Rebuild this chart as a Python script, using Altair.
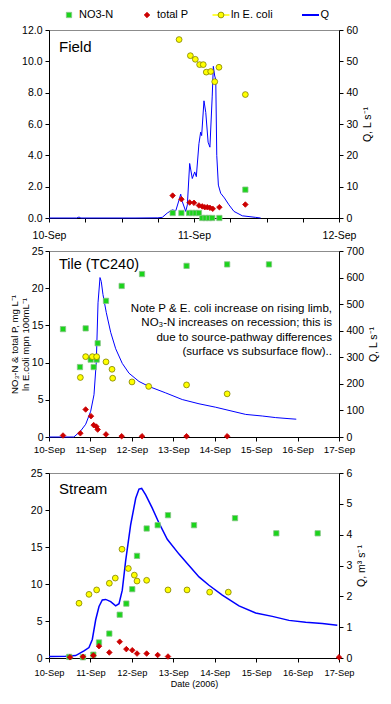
import altair as alt
import numpy as np
import pandas as pd

SERIES = ["NO3-N", "total P", "ln E. coli", "Q"]
POINT_SERIES = SERIES[:3]
PANEL_TITLES = ["Field", "Tile (TC240)", "Stream"]

# ---- Field (time in days after 10-Sep 00:00) ----
FIELD_NO3_T = [0.853, 0.913, 0.966, 0.989, 1.011, 1.034, 1.057, 1.080, 1.103, 1.126, 1.175, 1.354]
FIELD_NO3 = [0.32, 0.32, 0.32, 0.32, 0.32, 0.32, 0.0, 0.0, 0.0, 0.0, 0.0, 1.81]
FIELD_TP_T = [0.853, 0.913, 0.970, 1.000, 1.034, 1.057, 1.074, 1.092, 1.110, 1.129, 1.175, 1.354]
FIELD_TP = [1.43, 1.20, 0.99, 0.97, 0.80, 0.74, 0.69, 0.69, 0.65, 0.59, 0.69, 0.86]
FIELD_EC_T = [0.897, 0.975, 1.009, 1.039, 1.064, 1.085, 1.115, 1.143, 1.172, 1.354]
FIELD_EC = [11.39, 10.36, 10.13, 9.79, 9.79, 9.31, 9.35, 8.70, 9.62, 7.88]
FIELD_Q_T = [0.0, 0.19, 0.207, 0.22, 0.60, 0.75, 0.781, 0.816, 0.850, 0.874, 0.897, 0.908,
             0.919, 0.943, 0.954, 0.970, 0.988, 1.005, 1.016, 1.034, 1.046, 1.053, 1.069,
             1.081, 1.097, 1.110, 1.126, 1.133, 1.143, 1.150, 1.157, 1.168, 1.184, 1.210,
             1.241, 1.276, 1.333, 1.425, 1.46]
FIELD_Q = [0.0, 0.0, 0.3, 0.0, 0.0, 0.05, 0.2, 1.6, 2.6, 2.3, 5.8, 7.6,
           5.3, 2.1, 4.2, 17.4, 12.6, 14.7, 13.2, 23.7, 27.4, 26.3, 37.4,
           33.7, 24.2, 22.6, 38.9, 48.4, 45.3, 44.2, 20.0, 10.5, 7.9, 6.4,
           4.2, 2.1, 0.7, 0.2, 0.0]

# ---- Tile (TC240) ----
TILE_NO3_T = [0.338, 0.748, 0.885, 1.006, 1.078, 1.150, 1.175, 1.376, 1.754, 2.245, 3.32, 4.30, 5.31]
TILE_NO3 = [14.5, 9.4, 14.6, 10.4, 9.4, 10.4, 12.6, 18.3, 20.3, 21.9, 23.0, 23.2, 23.2]
TILE_TP_T = [0.338, 0.757, 0.885, 1.014, 1.078, 1.143, 1.175, 1.376, 1.754, 2.245, 3.32, 4.30]
TILE_TP = [0.2, 0.5, 3.7, 2.8, 1.6, 1.4, 1.0, 0.35, 0.1, 0.1, 0.1, 0.1]
TILE_EC_T = [0.757, 0.885, 1.046, 1.150, 1.376, 1.521, 1.537, 2.003, 2.406, 3.32, 4.30]
TILE_EC = [8.0, 10.8, 10.8, 10.8, 10.1, 9.1, 7.9, 7.4, 6.8, 7.0, 5.8]
TILE_Q_T = [0.0, 0.60, 0.765, 0.886, 1.006, 1.086, 1.142, 1.183, 1.231, 1.262, 1.303, 1.383,
            1.489, 1.610, 1.769, 1.931, 2.172, 2.414, 2.817, 3.217, 3.621, 4.024, 4.345,
            4.748, 5.148, 5.472, 5.793, 5.969]
TILE_Q = [0, 0, 23, 48, 97, 159, 283, 505, 600, 585, 536, 468,
          394, 332, 277, 240, 209, 190, 166, 141, 125, 112, 100,
          85, 79, 73, 69, 67]

# ---- Stream ----
STREAM_NO3_T = [0.49, 0.82, 1.07, 1.207, 1.456, 1.706, 1.867, 2.01, 2.124, 2.357, 2.623, 2.872,
                3.50, 4.49, 5.487, 6.485]
STREAM_NO3 = [0.15, 0.1, 0.45, 2.1, 3.3, 5.85, 7.35, 9.3, 13.8, 17.5, 17.95, 19.3,
              17.95, 18.9, 16.85, 16.85]
STREAM_TP_T = [0.507, 0.82, 1.07, 1.207, 1.456, 1.706, 1.867, 2.01, 2.124, 2.357, 2.623, 2.872, 7.0]
STREAM_TP = [0.1, 0.17, 0.35, 1.6, 0.75, 2.2, 1.2, 1.05, 0.6, 0.6, 0.4, 0.2, 0.1]
STREAM_EC_T = [0.724, 0.965, 1.15, 1.456, 1.60, 1.762, 1.915, 2.06, 2.124, 2.357, 2.872, 3.331,
               3.878, 4.328]
STREAM_EC = [7.4, 8.6, 9.2, 10.1, 10.8, 14.7, 12.1, 11.2, 10.4, 10.5, 9.2, 9.2, 8.9, 8.9]
STREAM_Q_T = [0.0, 0.4, 0.644, 0.845, 0.965, 1.045, 1.127, 1.207, 1.287, 1.369, 1.489, 1.61,
              1.69, 1.769, 1.851, 1.972, 2.093, 2.172, 2.237, 2.334, 2.493, 2.655, 2.855,
              3.138, 3.379, 3.621, 3.862, 4.183, 4.586, 4.989, 5.39, 5.793, 6.196, 6.597, 6.959]
STREAM_Q = [0.05, 0.06, 0.08, 0.23, 0.34, 0.6, 1.24, 1.67, 1.88, 1.9, 1.83, 1.69,
            1.76, 2.2, 3.16, 4.33, 5.18, 5.48, 5.5, 5.29, 4.86, 4.38, 3.85,
            3.37, 3.0, 2.63, 2.36, 2.04, 1.69, 1.46, 1.35, 1.22, 1.16, 1.12, 1.06]

FIELD_LEFT_TICKS = [0, 2, 4, 6, 8, 10, 12]
FIELD_RIGHT_TICKS = [0, 10, 20, 30, 40, 50, 60]
CONC_TICKS = [0, 5, 10, 15, 20, 25]
TILE_RIGHT_TICKS = [0, 100, 200, 300, 400, 500, 600, 700]
STREAM_RIGHT_TICKS = [0, 1, 2, 3, 4, 5, 6]

NOTE_LINES = ["Note P & E. coli increase on rising limb,",
              "NO\u2083-N increases on recession; this is",
              "due to source-pathway differences",
              "(surface vs subsurface flow).."]

# ---- styles ----
FONT = "Liberation Sans"
GREEN, GREEN_EDGE = "#1BD41B", "#86C486"
RED = "#CC0000"
YELLOW, OLIVE = "#FFFF00", "#808000"
BLUE = "#0000FF"
LEGEND_X = [20, 98, 172, 261.5]
W = 290

BASE = pd.Timestamp("2006-09-10")


def when(days):
    return BASE + pd.to_timedelta(np.round(np.asarray(days, dtype=float) * 1440), unit="min")


def points_frame(no3_t, no3, tp_t, tp, ec_t, ec):
    parts = []
    for name, t, v in ((SERIES[0], no3_t, no3), (SERIES[1], tp_t, tp), (SERIES[2], ec_t, ec)):
        parts.append(pd.DataFrame({"time": when(t), "value": v, "series": name}))
    return pd.concat(parts, ignore_index=True)


def point_channels():
    return dict(
        shape=alt.Shape("series:N", scale=alt.Scale(domain=POINT_SERIES, range=["square", "diamond", "circle"]), legend=None),
        fill=alt.Fill("series:N", scale=alt.Scale(domain=POINT_SERIES, range=[GREEN, RED, YELLOW]), legend=None),
        stroke=alt.Stroke("series:N", scale=alt.Scale(domain=POINT_SERIES, range=[GREEN_EDGE, RED, OLIVE]), legend=None),
        size=alt.Size("series:N", scale=alt.Scale(domain=POINT_SERIES, range=[28, 34, 24]), legend=None),
    )


def dt(day, hour=0):
    return alt.DateTime(year=2006, month=9, date=day, hours=hour)


def panel(title, height, pts, q_t, q, x_end_day, x_values, x_label_pad, x_label_size,
          left_dom, left_ticks, left_fmt, left_title, right_dom, right_ticks, right_title,
          title_y=22, title_size=15, label_expr=None, x_title=None, q_width=1.0, note=None):
    xscale = alt.Scale(domain=[dt(10), dt(x_end_day)])
    axis_kw = dict(values=x_values, format="%-d-%b", tickSize=4, labelPadding=x_label_pad,
                   labelFontSize=x_label_size, labelAngle=0, grid=False, labelOverlap=False,
                   labelFlush=False)
    if label_expr:
        axis_kw["labelExpr"] = label_expr
    if x_title:
        axis_kw.update(title=x_title, titleFontSize=9, titlePadding=2, titleFontWeight="normal")
    else:
        axis_kw["title"] = None
    xaxis = alt.Axis(**axis_kw)

    left_kw = dict(orient="left", values=left_ticks, format=left_fmt, tickSize=4, labelPadding=3,
                   labelFontSize=10.5, grid=False)
    if left_title:
        left_kw.update(title=left_title, titleFontSize=9.6, titleLineHeight=11, titlePadding=1,
                       titleFontWeight="normal", labelPadding=2)
    else:
        left_kw["title"] = None

    qdf = pd.DataFrame({"time": when(q_t), "q": q})
    line = alt.Chart(qdf).mark_line(color=BLUE, strokeWidth=q_width).encode(
        x=alt.X("time:T", scale=xscale, axis=xaxis),
        y=alt.Y("q:Q", scale=alt.Scale(domain=right_dom),
                axis=alt.Axis(orient="right", values=right_ticks, format="d", tickSize=4, labelPadding=3,
                              labelFontSize=10.5, grid=False, title=right_title, titleAngle=270,
                              titleBaseline="top", titleFontSize=10.5, titleFontWeight="normal",
                              titlePadding=5)),
    )
    points = alt.Chart(pts).mark_point(filled=True, strokeWidth=0.8, opacity=1).encode(
        x=alt.X("time:T", scale=xscale, axis=xaxis),
        y=alt.Y("value:Q", scale=alt.Scale(domain=left_dom), axis=alt.Axis(**left_kw)),
        **point_channels(),
    )
    label = alt.Chart(pd.DataFrame({"label": [title]})).mark_text(
        align="left", baseline="alphabetic", fontSize=title_size, font=FONT, color="black"
    ).encode(x=alt.value(10), y=alt.value(title_y), text="label:N")
    layers = [line, points, label]
    if note:
        layers.append(alt.Chart(pd.DataFrame({"t": ["\n".join(note)]})).mark_text(
            align="right", baseline="alphabetic", fontSize=11.5, lineHeight=14.3, font=FONT,
            color="black", lineBreak="\n"
        ).encode(x=alt.value(283), y=alt.value(61), text="t:N"))
    return alt.layer(*layers).resolve_scale(y="independent").properties(width=W, height=height)


field_x_vals = [dt(10 + h // 24, h % 24) for h in range(0, 49, 6)]
week_vals = [dt(d) for d in range(10, 18)]

field = panel(PANEL_TITLES[0], 188,
              points_frame(FIELD_NO3_T, FIELD_NO3, FIELD_TP_T, FIELD_TP, FIELD_EC_T, FIELD_EC),
              FIELD_Q_T, FIELD_Q, 12, field_x_vals, 8, 10.5,
              [0, 12], FIELD_LEFT_TICKS, ".1f", None, [0, 60], FIELD_RIGHT_TICKS, "Q, L s\u207b\u00b9",
              label_expr="hours(datum.value) == 0 ? datum.label : ''")

tile = panel(PANEL_TITLES[1], 186,
             points_frame(TILE_NO3_T, TILE_NO3, TILE_TP_T, TILE_TP, TILE_EC_T, TILE_EC),
             TILE_Q_T, TILE_Q, 17, week_vals, 3, 9.8,
             [0, 25], CONC_TICKS, "d",
             ["NO\u2083-N & total P, mg L\u207b\u00b9", "ln E.coli  mpn 100mL\u207b\u00b9"],
             [0, 700], TILE_RIGHT_TICKS, "Q, L s\u207b\u00b9", title_y=18, title_size=14.5,
             note=NOTE_LINES)

stream = panel(PANEL_TITLES[2], 185,
               points_frame(STREAM_NO3_T, STREAM_NO3, STREAM_TP_T, STREAM_TP, STREAM_EC_T, STREAM_EC),
               STREAM_Q_T, STREAM_Q, 17, week_vals, 6, 9.3,
               [0, 25], CONC_TICKS, "d", None, [0, 6], STREAM_RIGHT_TICKS, "Q, m\u00b3 s\u207b\u00b9",
               title_y=21, x_title="Date (2006)", q_width=1.5)

# ---- legend row ----
legend_df = pd.DataFrame({"series": SERIES, "lx": LEGEND_X})
lscale = alt.Scale(domain=[0, W])
leg_base = alt.Chart(legend_df)
leg_yellow = leg_base.transform_filter(alt.datum.series == SERIES[2]).transform_calculate(
    a="datum.lx - 8.5", b="datum.lx + 8.5").mark_rule(color=YELLOW, strokeWidth=1.5).encode(
    x=alt.X("a:Q", scale=lscale, axis=None), x2="b:Q", y=alt.value(4))
leg_blue = leg_base.transform_filter(alt.datum.series == SERIES[3]).transform_calculate(
    a="datum.lx - 8.5", b="datum.lx + 8.5").mark_rule(color=BLUE, strokeWidth=2).encode(
    x=alt.X("a:Q", scale=lscale, axis=None), x2="b:Q", y=alt.value(4))
leg_pts = leg_base.transform_filter(alt.FieldOneOfPredicate(field="series", oneOf=POINT_SERIES)).mark_point(
    filled=True, strokeWidth=0.8, opacity=1).encode(
    x=alt.X("lx:Q", scale=lscale, axis=None), y=alt.value(4), **point_channels())
leg_txt = leg_base.mark_text(align="left", baseline="middle", dx=10, fontSize=11, font=FONT,
                             color="black").encode(
    x=alt.X("lx:Q", scale=lscale, axis=None), y=alt.value(4), text="series:N")
legend = alt.layer(leg_yellow, leg_blue, leg_pts, leg_txt).properties(
    width=W, height=8, view=alt.ViewBackground(stroke="transparent"))

chart = alt.vconcat(
    legend,
    alt.vconcat(field, alt.vconcat(tile, stream, spacing=36, bounds="flush"), spacing=33, bounds="flush"),
    spacing=11, bounds="flush",
).properties(
    padding={"left": 0, "top": 0, "right": 0, "bottom": 0}
).configure_axis(
    labelFont=FONT, titleFont=FONT, labelColor="black", titleColor="black",
    domainColor="black", tickColor="black", domainWidth=1, tickWidth=1,
).configure_view(stroke="#8c8c8c")

chart.save("out.html", embed_options={"renderer": "svg", "actions": False})
